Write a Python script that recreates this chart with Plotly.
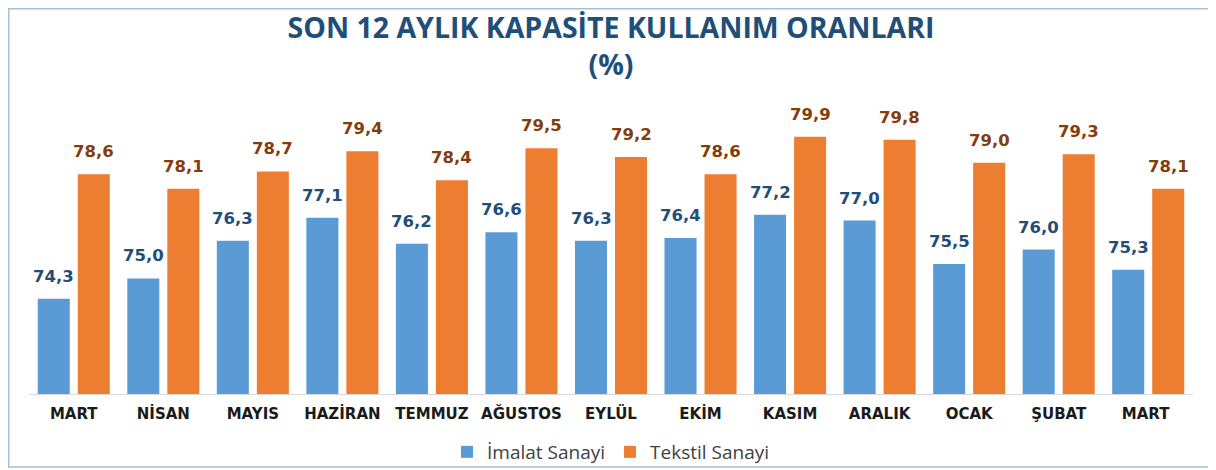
import plotly.graph_objects as go

months = ["MART", "NİSAN", "MAYIS", "HAZİRAN", "TEMMUZ", "AĞUSTOS", "EYLÜL",
          "EKİM", "KASIM", "ARALIK", "OCAK", "ŞUBAT", "MART "]
imalat = [74.3, 75.0, 76.3, 77.1, 76.2, 76.6, 76.3, 76.4, 77.2, 77.0, 75.5, 76.0, 75.3]
tekstil = [78.6, 78.1, 78.7, 79.4, 78.4, 79.5, 79.2, 78.6, 79.9, 79.8, 79.0, 79.3, 78.1]

BLUE = "#5B9BD5"
ORANGE = "#ED7D31"
BLUE_TXT = "#1F4E79"
ORANGE_TXT = "#843C0C"

# page body has an 8px margin, so the figure is sized to fit the 1216x470 window
W, H = 1208, 462
ML, MR, MT, MB = 21, 23, 97, 76
PW, PH = W - ML - MR, H - MT - MB

fig = go.Figure()
fig.add_trace(go.Bar(name="İmalat Sanayi", x=months, y=imalat, marker_color=BLUE,
                     marker_line_width=0))
fig.add_trace(go.Bar(name="Tekstil Sanayi", x=months, y=tekstil, marker_color=ORANGE,
                     marker_line_width=0))

def fmt(v):
    return f"{v:.1f}".replace(".", ",")

ann = []
for m, a, b in zip(months, imalat, tekstil):
    ann.append(dict(x=m, y=a, xref="x", yref="y", text=fmt(a), showarrow=False,
                    yanchor="bottom", xshift=-20, yshift=11,
                    font=dict(family="DejaVu Sans", size=16.5, color=BLUE_TXT, weight="bold")))
    ann.append(dict(x=m, y=b, xref="x", yref="y", text=fmt(b), showarrow=False,
                    yanchor="bottom", xshift=20, yshift=11,
                    font=dict(family="DejaVu Sans", size=16.5, color=ORANGE_TXT, weight="bold")))

fig.update_layout(
    template="none",
    width=W, height=H,
    margin=dict(l=ML, r=MR, t=MT, b=MB, pad=0, autoexpand=False),
    paper_bgcolor="white", plot_bgcolor="white",
    barmode="group", bargap=0.106, bargroupgap=0.2,
    title=dict(text="SON 12 AYLIK KAPASİTE KULLANIM ORANLARI<br>(%)",
               x=0.5, xref="paper", xanchor="center",
               y=1 - 30 / H, yref="container", yanchor="middle",
               font=dict(family="Open Sans", size=28.5, color="#1F4E79", weight="bold")),
    xaxis=dict(showline=True, linecolor="#D9D9D9", linewidth=1, ticks="", automargin=False,
               showgrid=False, zeroline=False, ticklabelstandoff=6,
               tickfont=dict(family="DejaVu Sans", size=15, color="#1a1a1a", weight="bold")),
    yaxis=dict(range=[71, 81], visible=False, showgrid=False, automargin=False),
    legend=dict(orientation="h", x=0.5, xanchor="center", y=-58 / PH, yanchor="middle",
                font=dict(family="Open Sans", size=19, color="#404040"),
                itemwidth=30, traceorder="normal", bgcolor="rgba(0,0,0,0)"),
    annotations=ann,
    shapes=[dict(type="rect", xref="paper", yref="paper",
                 x0=(0.75 - ML) / PW, x1=(W - 5 - ML) / PW,
                 y0=-(H - 3 - (MT + PH)) / PH, y1=(MT + PH - 0.75) / PH,
                 line=dict(color="#A9BFD9", width=1.5), layer="below")],
    showlegend=True,
)

fig.write_html("out.html")
